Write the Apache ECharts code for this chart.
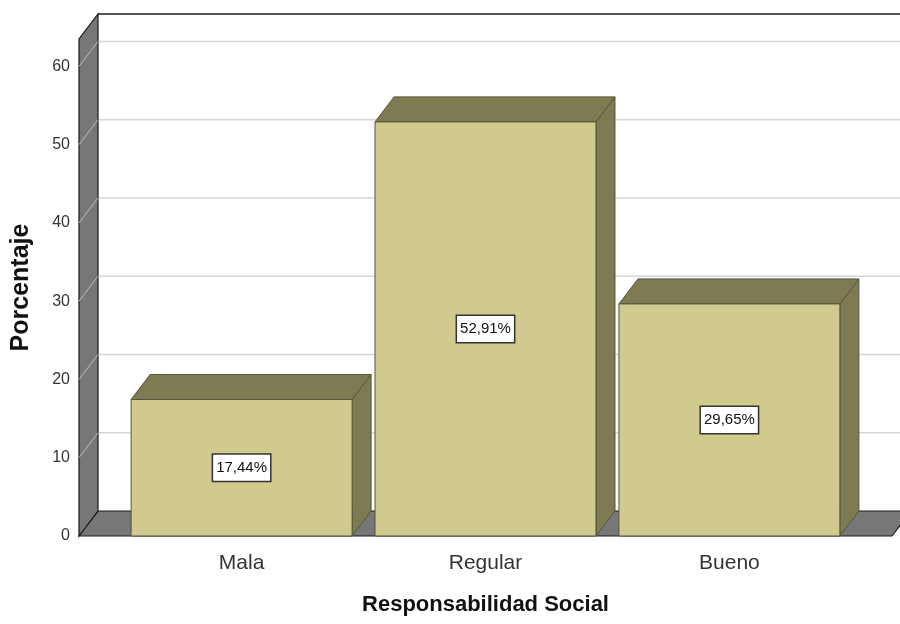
<!DOCTYPE html>
<html>
<head>
<meta charset="utf-8">
<script src="https://cdn.jsdelivr.net/npm/echarts@6/dist/echarts.min.js"></script>
<style>
html,body{margin:0;padding:0;background:#fff;}
#chart{width:900px;height:624px;}
</style>
</head>
<body>
<div id="chart"></div>
<script>
const categories = ['Mala', 'Regular', 'Bueno'];
const values = [17.44, 52.91, 29.65];
const valueLabels = ['17,44%', '52,91%', '29,65%'];
const yTicks = [0, 10, 20, 30, 40, 50, 60];

const X_MIN = -2 / 3, X_MAX = 8 / 3, Y_MAX = 63.5;
const BAR_HALF = 0.453;
const DX = 19, DY = -25;
const FONT = 'Liberation Sans, Arial, sans-serif';

const chart = echarts.init(document.getElementById('chart'), null, {renderer: 'canvas'});

function sceneItem(params, api) {
  const fl = api.coord([X_MIN, 0]);
  const fr = api.coord([X_MAX, 0]);
  const tl = api.coord([X_MIN, Y_MAX]);
  const children = [];
  // floor
  children.push({type: 'polygon', shape: {points: [[fl[0], fl[1]], [fr[0], fr[1]], [fr[0] + DX, fr[1] + DY], [fl[0] + DX, fl[1] + DY]]},
    style: {fill: '#777777', stroke: '#1a1a1a', lineWidth: 1.2}});
  // left wall
  children.push({type: 'polygon', shape: {points: [[fl[0], fl[1]], [tl[0], tl[1]], [tl[0] + DX, tl[1] + DY], [fl[0] + DX, fl[1] + DY]]},
    style: {fill: '#777777', stroke: '#1a1a1a', lineWidth: 1.2}});
  // grid lines
  yTicks.forEach(function (v) {
    if (v === 0) return;
    const p = api.coord([X_MIN, v]);
    children.push({type: 'line', shape: {x1: p[0], y1: p[1], x2: p[0] + DX, y2: p[1] + DY},
      style: {stroke: '#bdbdbd', lineWidth: 1}});
    children.push({type: 'line', shape: {x1: p[0] + DX + 1, y1: p[1] + DY, x2: fr[0] + DX, y2: p[1] + DY},
      style: {stroke: '#d6d6d6', lineWidth: 1.5}});
  });
  // back top edge
  children.push({type: 'line', shape: {x1: tl[0] + DX, y1: tl[1] + DY, x2: fr[0] + DX, y2: tl[1] + DY},
    style: {stroke: '#1a1a1a', lineWidth: 1.5}});
  return {type: 'group', children: children};
}

function barItem(params, api) {
  const i = api.value(0), v = api.value(1);
  const bl = api.coord([i - BAR_HALF, 0]);
  const tr = api.coord([i + BAR_HALF, v]);
  const mid = api.coord([i, v / 2]);
  const x0 = bl[0], x1 = tr[0], y0 = tr[1], yb = bl[1];
  const edge = '#55553a';
  return {type: 'group', children: [
    {type: 'polygon', shape: {points: [[x1, y0], [x1 + DX, y0 + DY], [x1 + DX, yb + DY], [x1, yb]]},
      style: {fill: '#7e7a52', stroke: edge, lineWidth: 1}},
    {type: 'polygon', shape: {points: [[x0, y0], [x1, y0], [x1 + DX, y0 + DY], [x0 + DX, y0 + DY]]},
      style: {fill: '#7e7a52', stroke: edge, lineWidth: 1}},
    {type: 'rect', shape: {x: x0, y: y0, width: x1 - x0, height: yb - y0},
      style: {fill: '#d0ca8e', stroke: edge, lineWidth: 1}},
    {type: 'text', x: mid[0], y: mid[1], style: {
      text: valueLabels[params.dataIndex], align: 'center', verticalAlign: 'middle',
      fill: '#111', fontSize: 15, fontFamily: FONT,
      backgroundColor: '#ffffff', borderColor: '#333333', borderWidth: 1.5, padding: [6, 3, 5, 3]}}
  ]};
}

chart.setOption({
  animation: false,
  backgroundColor: '#ffffff',
  grid: {left: 79, right: 8, top: 39, bottom: 88},
  xAxis: {
    type: 'value', min: X_MIN, max: X_MAX,
    axisLine: {show: false}, axisTick: {show: false}, splitLine: {show: false},
    axisLabel: {customValues: [0, 1, 2], formatter: function (v) { return categories[Math.round(v)]; },
      color: '#333', fontSize: 21, fontFamily: FONT, margin: 17},
    name: 'Responsabilidad Social', nameLocation: 'middle', nameGap: 58,
    nameTextStyle: {color: '#111', fontSize: 22, fontWeight: 'bold', fontFamily: FONT}
  },
  yAxis: {
    type: 'value', min: 0, max: Y_MAX, interval: 10,
    axisLine: {show: false}, axisTick: {show: false}, splitLine: {show: false},
    axisLabel: {customValues: yTicks, color: '#333', fontSize: 16, fontFamily: FONT, margin: 9},
    name: 'Porcentaje', nameLocation: 'middle', nameGap: 45,
    nameTextStyle: {color: '#111', fontSize: 25, fontWeight: 'bold', fontFamily: FONT}
  },
  series: [
    {type: 'custom', name: 'scene', renderItem: sceneItem, data: [[0, 0]], silent: true, z: 1, clip: false},
    {type: 'custom', name: 'Porcentaje', renderItem: barItem,
      data: values.map(function (v, i) { return [i, v]; }), encode: {x: 0, y: 1}, z: 2, clip: false}
  ]
});
</script>
</body>
</html>
